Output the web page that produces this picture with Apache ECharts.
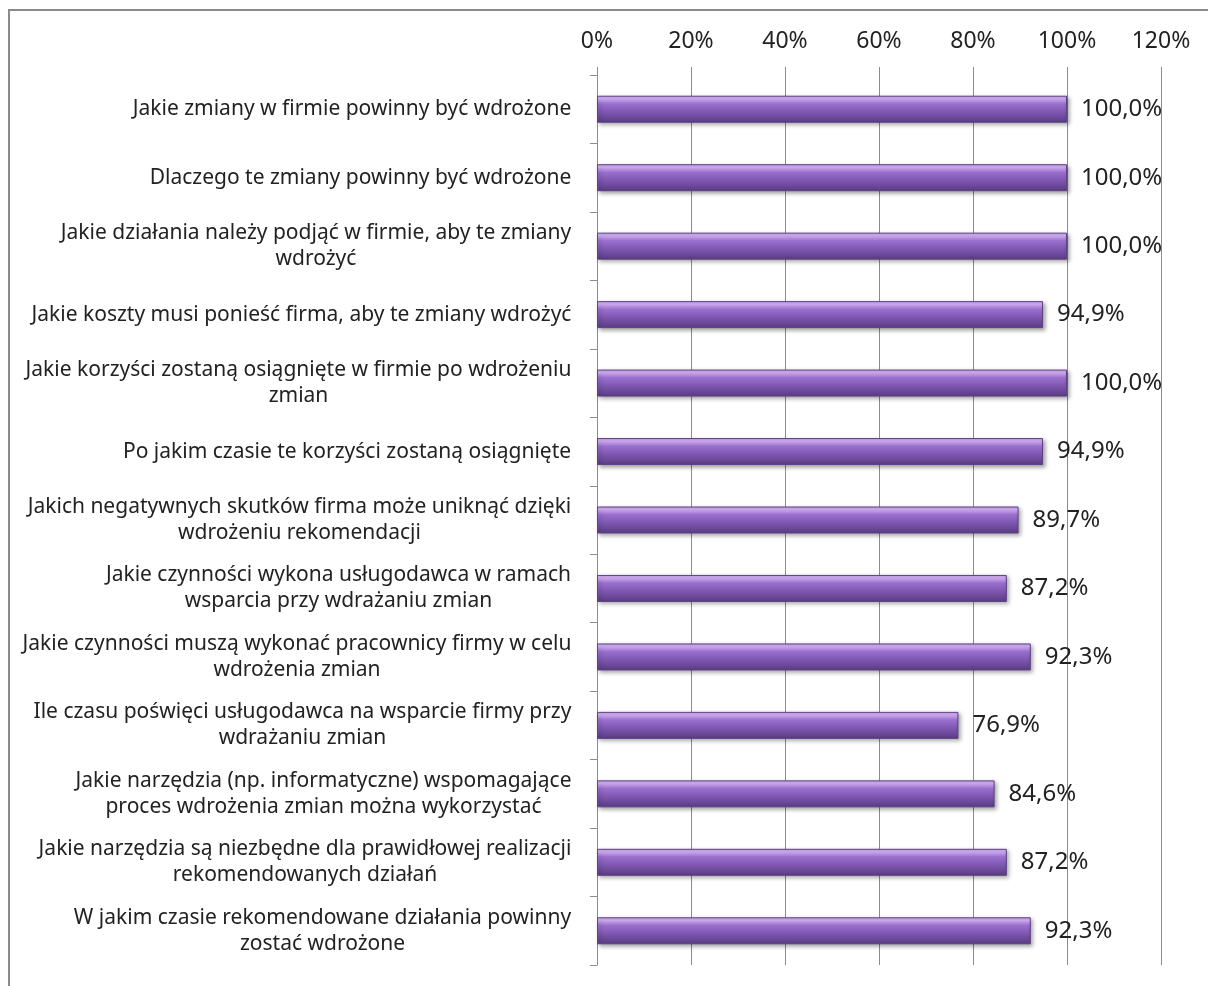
<!DOCTYPE html>
<html>
<head>
<meta charset="utf-8">
<script src="https://cdn.jsdelivr.net/npm/echarts@6/dist/echarts.min.js"></script>
<style>
  html, body { margin: 0; padding: 0; background: #fff; }
  #chart { width: 1208px; height: 986px; }
</style>
</head>
<body>
<div id="chart"></div>
<script>
// kategorie (od góry do dołu)
var categories = [
    'Jakie zmiany w firmie powinny być wdrożone',
    'Dlaczego te zmiany powinny być wdrożone',
    'Jakie działania należy podjąć w firmie, aby te zmiany\nwdrożyć',
    'Jakie koszty musi ponieść firma, aby te zmiany wdrożyć',
    'Jakie korzyści zostaną osiągnięte w firmie po wdrożeniu\nzmian',
    'Po jakim czasie te korzyści zostaną osiągnięte',
    'Jakich negatywnych skutków firma może uniknąć dzięki\nwdrożeniu rekomendacji',
    'Jakie czynności wykona usługodawca w ramach\nwsparcia przy wdrażaniu zmian',
    'Jakie czynności muszą wykonać pracownicy firmy w celu\nwdrożenia zmian',
    'Ile czasu poświęci usługodawca na wsparcie firmy przy\nwdrażaniu zmian',
    'Jakie narzędzia (np. informatyczne) wspomagające\nproces wdrożenia zmian można wykorzystać',
    'Jakie narzędzia są niezbędne dla prawidłowej realizacji\nrekomendowanych działań',
    'W jakim czasie rekomendowane działania powinny\nzostać wdrożone'
];

// wartości w %
var values = [100, 100, 100, 94.9, 100, 94.9, 89.7, 87.2, 92.3, 76.9, 84.6, 87.2, 92.3];

// etykiety osi X: 0% .. 120% co 20%
var axisMin = 0;
var axisMax = 120;
var axisStep = 20;

var font = 'Noto Sans';
var catFontSize = 21;

// etykiety wieloliniowe: blok wyrównany do prawej, linie wyśrodkowane
var ctx = document.createElement('canvas').getContext('2d');
ctx.font = catFontSize + 'px "' + font + '"';
var richCat = {};
categories.forEach(function (c, i) {
    var w = 0;
    c.split('\n').forEach(function (line) {
        w = Math.max(w, ctx.measureText(line).width);
    });
    richCat['c' + i] = {
        width: Math.ceil(w) + 1,
        align: 'center',
        fontFamily: font,
        fontSize: catFontSize,
        lineHeight: 26,
        color: '#222'
    };
});

var chart = echarts.init(document.getElementById('chart'));

var option = {
    animation: false,
    backgroundColor: '#fff',
    // ramka wykresu
    graphic: [{
        type: 'rect',
        silent: true,
        shape: { x: 9, y: 10, width: 1300, height: 1100 },
        style: { fill: 'none', stroke: '#8a8a8a', lineWidth: 2 }
    }],
    grid: {
        left: 597,
        right: 47,
        top: 75,
        bottom: 21
    },
    xAxis: {
        type: 'value',
        position: 'top',
        min: axisMin,
        max: axisMax,
        interval: axisStep,
        axisLine: { show: false },
        axisTick: {
            show: true,
            length: 8,
            lineStyle: { color: '#8c8c8c' }
        },
        axisLabel: {
            margin: 22,
            color: '#222',
            fontFamily: font,
            fontSize: 23,
            formatter: '{value}%'
        },
        splitLine: {
            show: true,
            lineStyle: { color: '#8c8c8c', width: 1 }
        }
    },
    yAxis: {
        type: 'category',
        inverse: true,
        data: categories,
        axisLine: { show: true, lineStyle: { color: '#8c8c8c' } },
        axisTick: { show: true, length: 7, lineStyle: { color: '#8c8c8c' } },
        axisLabel: {
            margin: 25,
            color: '#222',
            fontFamily: font,
            fontSize: catFontSize,
            lineHeight: 26,
            align: 'right',
            formatter: function (value, index) {
                return value.split('\n').map(function (line) {
                    return '{c' + index + '|' + line + '}';
                }).join('\n');
            },
            rich: richCat
        }
    },
    series: [{
        type: 'bar',
        data: values,
        barWidth: 27,
        itemStyle: {
            color: new echarts.graphic.LinearGradient(0, 0, 0, 1, [
                { offset: 0, color: '#c9a2ee' },
                { offset: 0.12, color: '#d4b0f6' },
                { offset: 0.3, color: '#9a70cf' },
                { offset: 0.65, color: '#7a53ac' },
                { offset: 1, color: '#5a3c82' }
            ]),
            borderColor: '#5d4285',
            borderWidth: 1,
            shadowColor: 'rgba(0,0,0,0.35)',
            shadowBlur: 4,
            shadowOffsetX: 2,
            shadowOffsetY: 2
        },
        label: {
            show: true,
            position: 'right',
            distance: 14,
            color: '#222',
            fontFamily: font,
            fontSize: 24,
            formatter: function (p) {
                return p.value.toFixed(1).replace('.', ',') + '%';
            }
        }
    }]
};

chart.setOption(option);
</script>
</body>
</html>
